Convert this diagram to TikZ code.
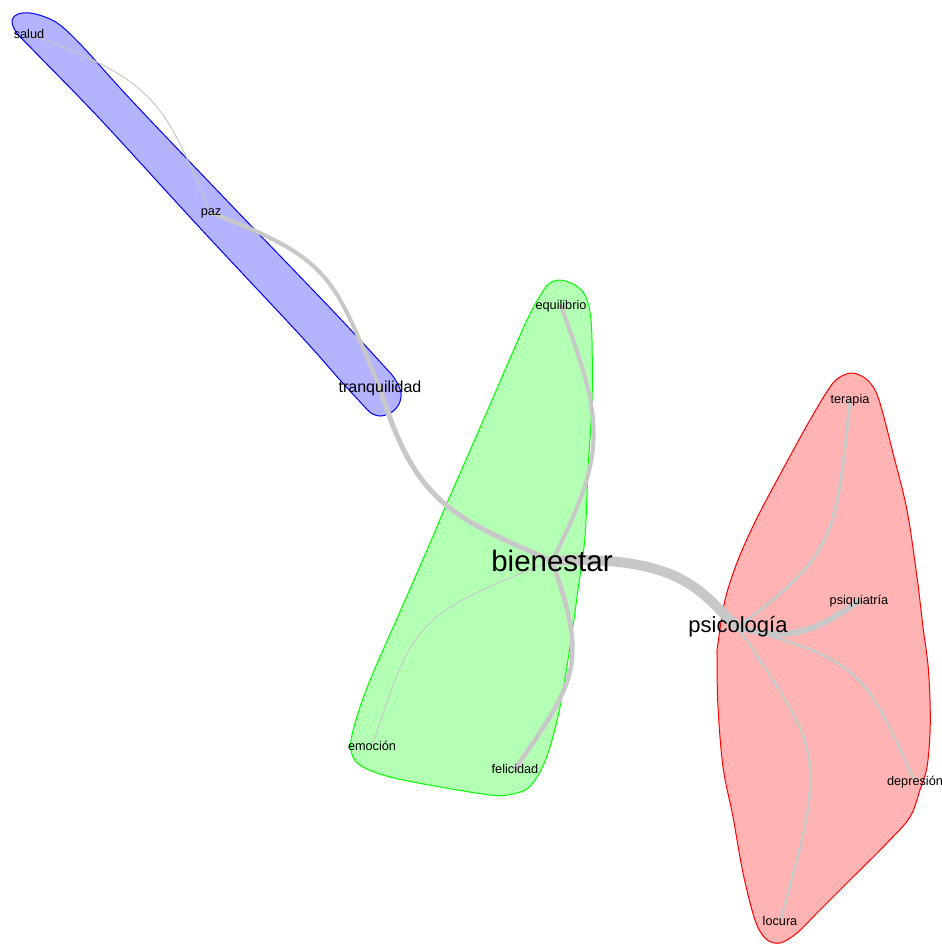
\documentclass[tikz,border=0pt]{standalone}
\usepackage{fontspec}
\setmainfont{Liberation Sans}
\definecolor{edgecol}{RGB}{200,200,200}
\definecolor{hullblue}{RGB}{0,0,255}
\definecolor{hullgreen}{RGB}{0,255,0}
\definecolor{hullred}{RGB}{255,0,0}
\definecolor{fillblue}{RGB}{179,179,255}
\definecolor{fillgreen}{RGB}{179,255,179}
\definecolor{fillred}{RGB}{255,179,179}
\pgfdeclarelayer{hulllayer}
\pgfdeclarelayer{edgelayer}
\pgfsetlayers{hulllayer,edgelayer,main}
\tikzset{
  hull/.style={line width=1pt, line join=round},
  edge/.style={draw=edgecol, line cap=round},
  lbl/.style={inner sep=0pt, anchor=center, text=black},
  small/.style={lbl, font=\fontsize{12.7}{14}\selectfont},
  mid/.style={lbl, font=\fontsize{16}{18}\selectfont},
  big/.style={lbl, font=\fontsize{22}{25}\selectfont},
  huge/.style={lbl, font=\fontsize{29.5}{32}\selectfont},
}
\begin{document}
\begin{tikzpicture}[x=1pt, y=-1pt]
\useasboundingbox (0,0) rectangle (942,945);
% vertices (labels)
\node[small] (salud) at (29,34) {salud};
\node[small] (paz) at (211,213) {paz};
\node[mid] (tranquilidad) at (380,388) {tranquilidad};
\node[small] (equilibrio) at (561,306) {equilibrio};
\node[huge] (bienestar) at (552,561) {bienestar};
\node[small] (emocion) at (372,746) {emoción};
\node[small] (felicidad) at (515,769) {felicidad};
\node[big] (psicologia) at (738,627) {psicología};
\node[small] (terapia) at (850,400) {terapia};
\node[small] (psiquiatria) at (859,601) {psiquiatría};
\node[small] (depresion) at (915,782) {depresión};
\node[small] (locura) at (780,921) {locura};
% group hulls
\begin{pgfonlayer}{hulllayer}
\draw[hull, draw=hullblue, fill=fillblue] plot[smooth cycle, tension=0.55] coordinates {
 (12,20) (18,14) (30,13) (45,17) (60,25) (83,47) (133,102) (233,207) (333,311)
 (383,365) (395,379) (401,393) (399,404) (392,412) (381,416) (371,413) (362,404)
 (340,380) (300,335) (200,228) (100,119) (33,50) (16,32)};
\draw[hull, draw=hullgreen, fill=fillgreen] plot[smooth cycle, tension=0.55] coordinates {
 (560,280) (575,285) (585,295) (590,312) (592,340) (592,403) (588,470) (585,537)
 (578,590) (570,647) (560,707) (550,747) (540,772) (527,789) (507,795) (490,795)
 (440,787) (390,777) (363,767) (353,757) (351,740) (360,707) (373,673) (395,623)
 (427,550) (447,503) (479,430) (502,377) (527,320) (543,291) (550,283)};
\draw[hull, draw=hullred, fill=fillred] plot[smooth cycle, tension=0.55] coordinates {
 (852,373) (865,378) (875,390) (882,410) (893,453) (907,510) (917,577) (923,627)
 (928,665) (930,700) (930,733) (927,767) (920,790) (910,817) (887,843) (850,880)
 (817,913) (797,933) (780,943) (766,939) (755,920) (743,873) (733,817) (723,767)
 (718,707) (717,657) (718,643) (725,600) (738,560) (757,518) (783,469) (810,420)
 (830,387) (840,377)};
\end{pgfonlayer}
% edges
\begin{pgfonlayer}{edgelayer}
\draw[edge, line width=1pt] (salud.center) .. controls +(131,48) and +(-48,-110) .. (paz.center);
\draw[edge, line width=4pt] (paz.center) .. controls +(122,46) and +(-47,-110) .. (tranquilidad.center);
\draw[edge, line width=5pt] (tranquilidad.center) .. controls +(35,115) and +(-100,-44) .. (bienestar.center);
\draw[edge, line width=4pt] (equilibrio.center) .. controls +(43,117) and +(56,-110) .. (bienestar.center);
\draw[edge, line width=4.5pt] (bienestar.center) .. controls +(36,102) and +(62,-89) .. (felicidad.center);
\draw[edge, line width=1pt] (bienestar.center) .. controls +(-140,55) and +(42,-124) .. (emocion.center);
\draw[edge, line width=10pt] (bienestar.center) .. controls +(140,-8) and +(-32,-25) .. (psicologia.center);
\draw[edge, line width=3pt] (psicologia.center) .. controls +(96,-72) and +(-14,140) .. (terapia.center);
\draw[edge, line width=6pt] (psicologia.center) .. controls +(52,17) and +(-39,27) .. (psiquiatria.center);
\draw[edge, line width=2.5pt] (psicologia.center) .. controls +(126,34) and +(-50,-109) .. (depresion.center);
\draw[edge, line width=2.5pt] (psicologia.center) .. controls +(82,125) and +(50,-173) .. (locura.center);
\end{pgfonlayer}
\end{tikzpicture}
\end{document}
